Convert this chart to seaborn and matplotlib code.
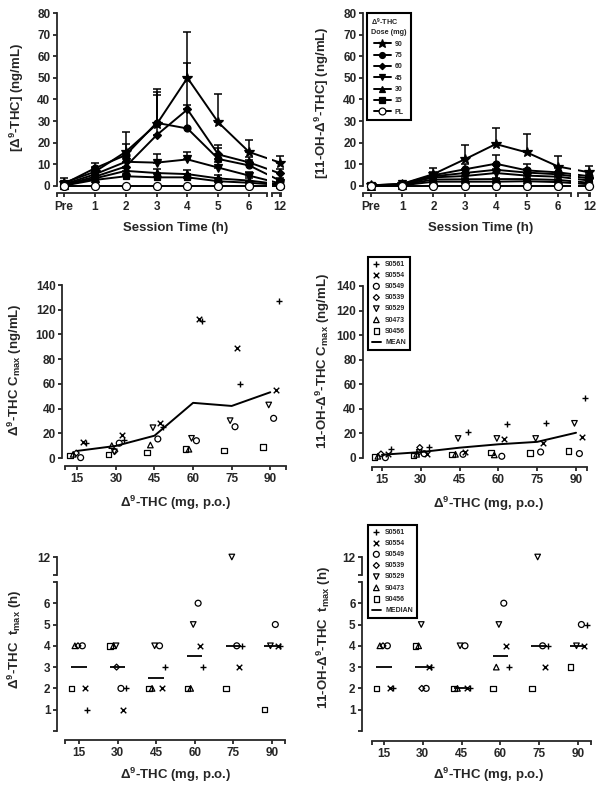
import numpy as np
import pandas as pd
import matplotlib
matplotlib.use("Agg")
import matplotlib.pyplot as plt
import seaborn as sns
from matplotlib.lines import Line2D

# ---- time course: means and upper SEM (panels A, B) ----
time_labels = ["Pre", "1", "2", "3", "4", "5", "6", "12"]
time_pos = [0, 1, 2, 3, 4, 5, 6, 7]  # 12 h sits after the axis break
dose_groups = ["90", "75", "60", "45", "30", "15", "PL"]

thc_mean = {
    "90": [1.5, 6.6, 15.8, 28.5, 50.0, 29.4, 15.7, 10.8],
    "75": [1.0, 8.2, 14.3, 29.2, 26.6, 12.5, 9.5, 2.5],
    "60": [0.5, 4.3, 9.0, 23.5, 35.4, 14.6, 10.9, 5.8],
    "45": [0.8, 5.4, 11.2, 10.8, 12.3, 8.5, 4.8, 1.2],
    "30": [0.3, 3.5, 7.0, 6.0, 5.5, 3.5, 2.5, 0.8],
    "15": [0.2, 2.8, 4.5, 4.0, 4.0, 2.2, 1.5, 0.5],
    "PL": [0, 0, 0, 0, 0, 0, 0, 0],
}
thc_sem = {
    "90": [2.3, 2.3, 9.2, 16.5, 21.0, 13.3, 5.5, 2.9],
    "75": [1.0, 2.6, 5.2, 14.3, 11.0, 4.9, 2.5, 1.0],
    "60": [0.5, 1.0, 2.0, 18.5, 21.6, 4.4, 2.5, 2.0],
    "45": [0.5, 1.5, 2.0, 4.0, 3.6, 2.7, 1.8, 0.8],
    "30": [0.3, 1.0, 1.5, 2.0, 2.0, 1.5, 1.0, 0.5],
    "15": [0.2, 0.8, 1.2, 1.5, 1.5, 1.0, 0.7, 0.3],
    "PL": [0, 0, 0, 0, 0, 0, 0, 0],
}
oh_mean = {
    "90": [0.3, 1.0, 5.5, 12.3, 19.4, 15.5, 9.0, 6.3],
    "75": [0.3, 0.9, 5.0, 7.7, 10.3, 7.2, 6.3, 4.5],
    "60": [0.2, 0.8, 4.5, 6.0, 7.5, 6.2, 5.4, 3.5],
    "45": [0.1, 0.7, 4.0, 4.6, 6.0, 4.8, 4.3, 2.5],
    "30": [0.1, 0.5, 3.0, 3.1, 3.2, 3.2, 2.8, 1.5],
    "15": [0.0, 0.3, 2.0, 2.0, 2.0, 2.2, 1.8, 0.8],
    "PL": [0, 0, 0, 0, 0, 0, 0, 0],
}
oh_sem = {
    "90": [0.2, 0.3, 2.8, 6.5, 7.6, 8.5, 5.0, 3.1],
    "75": [0.1, 0.3, 1.5, 2.5, 4.2, 3.0, 1.8, 1.2],
    "60": [0.1, 0.2, 1.0, 1.5, 2.0, 1.5, 1.0, 0.8],
    "45": [0.1, 0.2, 0.8, 1.2, 1.8, 1.2, 0.8, 0.5],
    "30": [0.1, 0.1, 0.5, 0.6, 0.6, 0.5, 0.4, 0.3],
    "15": [0.0, 0.1, 0.4, 0.4, 0.4, 0.4, 0.3, 0.2],
    "PL": [0, 0, 0, 0, 0, 0, 0, 0],
}

# ---- individual subjects (panels C-F) ----
doses = [15, 30, 45, 60, 75, 90]
subjects = ["S0561", "S0554", "S0549", "S0539", "S0529", "S0473", "S0456"]
nan = np.nan

thc_cmax = {
    "S0561": [12.0, 14.5, 25.0, 111.0, 59.9, 127.3],
    "S0554": [13.0, 18.5, 28.6, 112.5, 89.3, 54.8],
    "S0549": [0.3, 12.0, 15.4, 14.0, 25.3, 32.1],
    "S0539": [4.0, 5.5, nan, nan, nan, nan],
    "S0529": [nan, 5.0, 24.5, 15.9, 30.2, 42.9],
    "S0473": [3.0, 10.0, 10.5, 7.1, nan, nan],
    "S0456": [2.2, 3.0, 4.3, 7.3, 5.9, 8.9],
}
oh_cmax = {
    "S0561": [7.1, 9.0, 20.8, 27.7, 28.2, 48.8],
    "S0554": [3.0, 3.0, 4.7, 15.1, 12.6, 16.7],
    "S0549": [0.3, 3.5, 3.0, 1.4, 4.9, 3.6],
    "S0539": [3.3, 8.5, nan, nan, nan, nan],
    "S0529": [nan, 4.5, 15.9, 15.9, 15.9, 28.2],
    "S0473": [1.4, 3.0, 3.0, 2.5, nan, nan],
    "S0456": [0.8, 2.2, 3.0, 4.4, 4.1, 5.5],
}
thc_tmax = {
    "S0561": [1, 2, 3, 3, 4, 4],
    "S0554": [2, 1, 2, 4, 3, 4],
    "S0549": [4, 2, 4, 6, 4, 5],
    "S0539": [4, 3, nan, nan, nan, nan],
    "S0529": [nan, 4, 4, 5, 12, 4],
    "S0473": [4, 4, 2, 2, nan, nan],
    "S0456": [2, 4, 2, 2, 2, 1],
}
oh_tmax = {
    "S0561": [2, 3, 2, 3, 4, 5],
    "S0554": [2, 3, 2, 4, 3, 4],
    "S0549": [4, 2, 4, 6, 4, 5],
    "S0539": [4, 2, nan, nan, nan, nan],
    "S0529": [nan, 5, 4, 5, 12, 4],
    "S0473": [4, 4, 2, 3, nan, nan],
    "S0456": [2, 4, 2, 2, 2, 3],
}

# marker styles
dose_marker = {"90": "*", "75": "o", "60": "D", "45": "v", "30": "^", "15": "s", "PL": "o"}
dose_msize = {"90": 7.5, "75": 5, "60": 3.8, "45": 5.2, "30": 5.2, "15": 4.4, "PL": 5.8}
subj_marker = {"S0561": "+", "S0554": "x", "S0549": "o", "S0539": "D",
               "S0529": "v", "S0473": "^", "S0456": "s"}
subj_size = {"S0561": 22, "S0554": 16, "S0549": 18, "S0539": 9,
             "S0529": 16, "S0473": 16, "S0456": 16}
subj_offset = {"S0561": 3.3, "S0554": 2.2, "S0549": 1.3, "S0539": -0.4,
               "S0529": -0.6, "S0473": -1.6, "S0456": -2.9}

sns.set_style("ticks")
plt.rcParams["font.family"] = ["Liberation Sans", "DejaVu Sans"]
plt.rcParams.update({
    "font.weight": "bold",
    "axes.labelweight": "bold",
    "mathtext.fontset": "custom",
    "mathtext.rm": "Liberation Sans:bold",
    "mathtext.it": "Liberation Sans:bold",
    "mathtext.bf": "Liberation Sans:bold",
    "axes.linewidth": 1.3,
    "xtick.major.width": 1.3, "ytick.major.width": 1.3,
    "xtick.minor.width": 1.3, "ytick.minor.width": 1.3,
    "xtick.major.size": 3.2, "ytick.major.size": 3.2,
    "xtick.minor.size": 3.2, "ytick.minor.size": 3.2,
    "xtick.labelsize": 8.5, "ytick.labelsize": 8.5,
    "xtick.major.pad": 2, "ytick.major.pad": 1.5,
})

W, H = 605, 790
fig = plt.figure(figsize=(W / 100, H / 100), dpi=100)
LABEL_FS = 9.5


def place(xlim, ylim, x0, xs, y0, ys):
    # x0/y0: pixel of value 0, xs/ys: pixels per data unit
    left, right = x0 + xs * xlim[0], x0 + xs * xlim[1]
    top, bottom = y0 - ys * ylim[1], y0 - ys * ylim[0]
    ax = fig.add_axes([left / W, 1 - bottom / H, (right - left) / W, (bottom - top) / H])
    ax.set_xlim(xlim)
    ax.set_ylim(ylim)
    sns.despine(ax=ax)
    return ax


def end_ticks(axis, lo, hi):
    axis.set_minor_locator(matplotlib.ticker.FixedLocator([lo, hi]))


def fig_text(x, y, s, rot=0, size=LABEL_FS):
    fig.text(x / W, 1 - y / H, s, rotation=rot, ha="center", va="center",
             fontsize=size, fontweight="bold")


def draw_course(axes, means, sems):
    for d in dose_groups:
        df = pd.DataFrame({"pos": time_pos, "conc": means[d], "sem": sems[d]})
        face = "white" if d == "PL" else "black"
        for k, ax in enumerate(axes):
            if d != "PL":
                ax.errorbar(df["pos"], df["conc"], yerr=[np.zeros(len(df)), df["sem"]],
                            fmt="none", ecolor="k", elinewidth=1.1, capsize=2.6,
                            capthick=1.1, zorder=2)
            sns.lineplot(data=df, x="pos", y="conc", ax=ax, color="k", lw=1.4,
                         marker=dose_marker[d], markersize=dose_msize[d],
                         markerfacecolor=face, markeredgecolor="k", markeredgewidth=0.9,
                         label=d if k == 0 else None, legend=False,
                         zorder=4 if d == "PL" else 3)
            ax.set_xlabel("")
            ax.set_ylabel("")


def build_course(x0, xs, y_left_px, main_right, small_left, means, sems, ylab, ylab_xy, xlab_xy):
    ylim = (-2, 80)
    xl = (-(x0 - y_left_px) / xs, main_right)
    main = place(xl, ylim, x0, xs, 186, 2.1625)
    small = place((small_left, 7.25), ylim, x0, xs, 186, 2.1625)
    draw_course([main, small], means, sems)
    main.set_xlim(xl)
    small.set_xlim((small_left, 7.25))
    main.set_ylim(ylim)
    small.set_ylim(ylim)
    for ax in (main, small):
        ax.spines["bottom"].set_position(("outward", 2.2))
    main.spines["left"].set_bounds(0, 80)
    main.set_yticks(range(0, 81, 10))
    main.set_xticks(time_pos[:-1], time_labels[:-1])
    end_ticks(main.xaxis, xl[0], main_right)
    small.spines["left"].set_visible(False)
    small.tick_params(axis="y", left=False, labelleft=False)
    small.spines["bottom"].set_bounds(small_left, 7.03)
    small.set_xticks([7], ["12"])
    end_ticks(small.xaxis, small_left, 7.03)
    fig_text(ylab_xy[0], ylab_xy[1], ylab, rot=90)
    fig_text(xlab_xy[0], xlab_xy[1], "Session Time (h)")
    return main, small


axA, axA2 = build_course(64, 30.86, 57, 6.58, 6.75, thc_mean, thc_sem,
                         "[Δ$^{9}$-THC] (ng/mL)", (17, 97), (176, 228))
axB, axB2 = build_course(371, 31.2, 363, 6.41, 6.63, oh_mean, oh_sem,
                         "[11-OH-Δ$^{9}$-THC] (ng/mL)", (322, 103), (481, 228))

h, l = axB.get_legend_handles_labels()
legB = fig.legend(h, l, title="Δ$^{9}$-THC\nDose (mg)", loc="upper left",
                  bbox_to_anchor=(367 / W, 1 - 13 / H), borderaxespad=0,
                  fontsize=5, title_fontsize=5.2, frameon=True,
                  fancybox=False, edgecolor="k", framealpha=1, handlelength=2.4,
                  handletextpad=0.6, labelspacing=0.62, borderpad=0.6, markerscale=0.85)
legB.get_frame().set_linewidth(1.5)
legB.get_title().set_fontweight("bold")


# ---- subject panels ----
def long_table(values):
    rows = []
    for s in subjects:
        for d, v in zip(doses, values[s]):
            rows.append({"subject": s, "dose": d, "val": v,
                         "xpos": d + subj_offset[s]})
    return pd.DataFrame(rows).dropna()


def draw_subjects(ax, df, with_label):
    for s in subjects:
        sub = df[df["subject"] == s]
        if sub.empty:
            continue
        m = subj_marker[s]
        kw = dict(marker=m, s=subj_size[s], color="k", clip_on=False, zorder=3)
        if m in ("+", "x"):
            kw["linewidth"] = 1.0
        else:
            kw.update(facecolor="none", edgecolor="k", linewidth=0.9)
        sns.scatterplot(data=sub, x="xpos", y="val", ax=ax,
                        label=s if with_label else None, legend=False, **kw)
    ax.set_xlabel("")
    ax.set_ylabel("")


def dose_axis(ax, xl, out):
    ax.set_xlim(xl)
    ax.set_xticks(doses)
    end_ticks(ax.xaxis, xl[0], xl[1])
    ax.spines["bottom"].set_position(("outward", out))


def cmax_panel(values, x0, xs, xl, left_out, bottom_out, ys, with_legend, ylab, ylab_xy, xlab_xy):
    ylim = (-2, 140)
    ax = place(xl, ylim, x0, xs, 458, ys)
    df = long_table(values)
    draw_subjects(ax, df, with_legend)
    sns.lineplot(data=df, x="dose", y="val", estimator="mean", errorbar=None,
                 color="k", lw=1.4, ax=ax, label="MEAN" if with_legend else None,
                 legend=False, zorder=2)
    ax.set_xlabel("")
    ax.set_ylabel("")
    ax.set_ylim(ylim)
    dose_axis(ax, xl, bottom_out)
    ax.spines["left"].set_position(("outward", left_out))
    ax.spines["left"].set_bounds(0, 140)
    ax.set_yticks(range(0, 141, 20))
    fig_text(ylab_xy[0], ylab_xy[1], ylab, rot=90)
    fig_text(xlab_xy[0], xlab_xy[1], "Δ$^{9}$-THC (mg, p.o.)")
    return ax


def tmax_panel(values, x0, xs, xl, left_out, bottom_out, with_legend, ylab, ylab_xy, xlab_xy):
    df = long_table(values)
    low = place(xl, (0, 7), x0, xs, 731, 21.3)
    up = place(xl, (11.15, 12.45), x0, xs, 812.6, 21.3)
    draw_subjects(low, df[df["val"] <= 7], with_legend)
    draw_subjects(up, df[df["val"] > 7], False)
    sns.boxplot(data=df, x="dose", y="val", native_scale=True, orient="x", width=0.4,
                showfliers=False, whis=0, ax=low, legend=False,
                boxprops={"visible": False}, whiskerprops={"visible": False},
                capprops={"visible": False},
                medianprops={"color": "k", "linewidth": 1.3})
    if low.get_legend() is not None:
        low.get_legend().remove()
    low.set_xlabel("")
    low.set_ylabel("")
    low.set_ylim(0, 7)
    dose_axis(low, xl, bottom_out)
    low.spines["left"].set_position(("outward", left_out))
    low.set_yticks(range(0, 7), [""] + [str(i) for i in range(1, 7)])
    end_ticks(low.yaxis, 0, 7)
    up.set_xlim(xl)
    up.set_ylim(11.15, 12.45)
    up.spines["bottom"].set_visible(False)
    up.tick_params(axis="x", bottom=False, labelbottom=False)
    up.spines["left"].set_position(("outward", left_out))
    up.spines["left"].set_bounds(11.15, 12)
    up.set_yticks([12])
    end_ticks(up.yaxis, 11.15, 12)
    fig_text(ylab_xy[0], ylab_xy[1], ylab, rot=90)
    fig_text(xlab_xy[0], xlab_xy[1], "Δ$^{9}$-THC (mg, p.o.)")
    return low, up


axC = cmax_panel(thc_cmax, 38.7, 2.573, (10.2, 96.2), 2.1, 4.0, 1.2357, False,
                 "Δ$^{9}$-THC C$_{max}$ (ng/mL)", (15, 370), (176, 503))
axD = cmax_panel(oh_cmax, 343.2, 2.587, (11.1, 94.3), 6.4, 4.7, 1.2286, True,
                 "11-OH-Δ$^{9}$-THC C$_{max}$ (ng/mL)", (323, 361), (489, 504))
axE, axE2 = tmax_panel(thc_tmax, 40.4, 2.573, (9.56, 95.05), 5.8, 6.5, False,
                       "Δ$^{9}$-THC  t$_{max}$ (h)", (15, 639), (176, 775))
axF, axF2 = tmax_panel(oh_tmax, 345.2, 2.587, (10.4, 95.0), 7.2, 7.2, True,
                       "11-OH-Δ$^{9}$-THC  t$_{max}$ (h)", (324, 638), (489, 775))

leg_kw = dict(loc="upper left", borderaxespad=0,
              fontsize=5, frameon=True, fancybox=False, edgecolor="k", framealpha=1,
              handlelength=1.3, handletextpad=0.6, labelspacing=0.6, borderpad=0.55)
h, l = axD.get_legend_handles_labels()
legD = fig.legend(h, l, bbox_to_anchor=(368 / W, 1 - 257 / H), **leg_kw)
legD.get_frame().set_linewidth(1.5)

h, l = axF.get_legend_handles_labels()
h = h + [Line2D([], [], color="k", lw=1.3)]
l = l + ["MEDIAN"]
legF = fig.legend(h, l, bbox_to_anchor=(368 / W, 1 - 525 / H), **leg_kw)
legF.get_frame().set_linewidth(1.5)

fig.savefig("out.png", dpi=100)
